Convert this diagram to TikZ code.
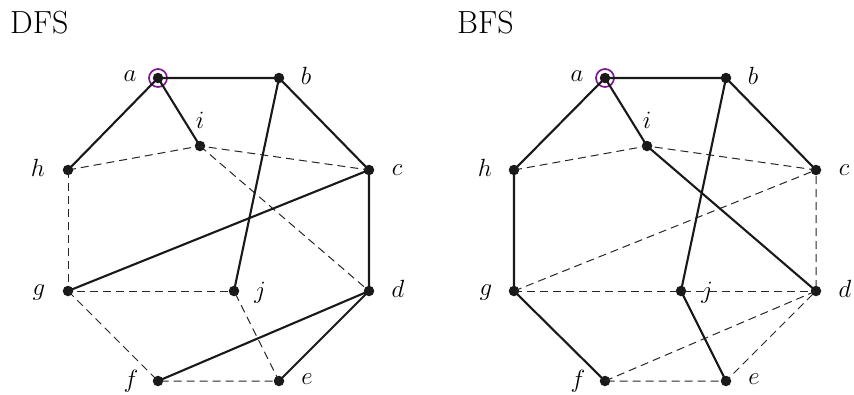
\documentclass[tikz,border=0pt]{standalone}
\usepackage{fontspec}
\definecolor{rootpurple}{RGB}{128,20,150}
\tikzset{
  vtx/.style={circle,fill=black!90,inner sep=0pt,minimum size=10.5pt},
  lbl/.style={font=\fontsize{30}{34}\selectfont},
  tree/.style={line width=2.1pt,black!90},
  nontree/.style={line width=1pt,black!85,dash pattern=on 8pt off 5pt},
  root/.style={draw=rootpurple,line width=1.7pt,circle,inner sep=0pt,minimum size=18pt},
  ttl/.style={font=\fontsize{32}{36}\selectfont,anchor=base west,inner sep=0pt}
}
\begin{document}
\begin{tikzpicture}[x=1pt,y=-1pt]
\useasboundingbox (0,0) rectangle (854,394);
\node[ttl] (tdfs) at (10,33) {DFS};
\node[ttl] (tbfs) at (457,33) {BFS};
% ---------- DFS ----------
\begin{scope}
\node[vtx] (a) at (158,78) {};
\node[vtx] (b) at (279,78) {};
\node[vtx] (c) at (369,170) {};
\node[vtx] (d) at (369,291) {};
\node[vtx] (e) at (279,381) {};
\node[vtx] (f) at (158,381) {};
\node[vtx] (g) at (68,291) {};
\node[vtx] (h) at (68,170) {};
\node[vtx] (i) at (200,146) {};
\node[vtx] (j) at (234,291) {};
\node[root] (ra) at (a) {};
\node[lbl] (la) at (130,76) {$a$};
\node[lbl] (lb) at (306,76) {$b$};
\node[lbl] (lc) at (397,170) {$c$};
\node[lbl] (ld) at (398,289) {$d$};
\node[lbl] (le) at (307,379) {$e$};
\node[lbl] (lf) at (131,381) {$f$};
\node[lbl] (lg) at (39,293) {$g$};
\node[lbl] (lh) at (38,168) {$h$};
\node[lbl] (li) at (200,120) {$i$};
\node[lbl] (lj) at (260,293) {$j$};
\draw[nontree] (h.center) -- (i.center) -- (c.center);
\draw[nontree] (i.center) -- (d.center);
\draw[nontree] (h.center) -- (g.center) -- (j.center);
\draw[nontree] (g.center) -- (f.center) -- (e.center) -- (j.center);
\draw[tree] (h.center) -- (a.center) -- (b.center) -- (c.center) -- (d.center) -- (e.center);
\draw[tree] (a.center) -- (i.center);
\draw[tree] (b.center) -- (j.center);
\draw[tree] (c.center) -- (g.center);
\draw[tree] (d.center) -- (f.center);
\end{scope}
% ---------- BFS ----------
\begin{scope}
\node[vtx] (A) at (605,78) {};
\node[vtx] (B) at (726,78) {};
\node[vtx] (C) at (816,170) {};
\node[vtx] (D) at (816,291) {};
\node[vtx] (E) at (726,381) {};
\node[vtx] (F) at (605,381) {};
\node[vtx] (G) at (514,291) {};
\node[vtx] (H) at (514,170) {};
\node[vtx] (I) at (647,146) {};
\node[vtx] (J) at (681,291) {};
\node[root] (rA) at (A) {};
\node[lbl] (lA) at (577,76) {$a$};
\node[lbl] (lB) at (753,76) {$b$};
\node[lbl] (lC) at (844,170) {$c$};
\node[lbl] (lD) at (845,289) {$d$};
\node[lbl] (lE) at (754,379) {$e$};
\node[lbl] (lF) at (578,381) {$f$};
\node[lbl] (lG) at (486,293) {$g$};
\node[lbl] (lH) at (485,168) {$h$};
\node[lbl] (lI) at (647,120) {$i$};
\node[lbl] (lJ) at (707,293) {$j$};
\draw[nontree] (H.center) -- (I.center) -- (C.center) -- (D.center);
\draw[nontree] (G.center) -- (C.center);
\draw[nontree] (G.center) -- (J.center);
\draw[nontree] (G.center) -- (D.center);
\draw[nontree] (F.center) -- (D.center) -- (E.center) -- (F.center);
\draw[tree] (F.center) -- (G.center) -- (H.center) -- (A.center) -- (B.center) -- (C.center);
\draw[tree] (A.center) -- (I.center) -- (D.center);
\draw[tree] (B.center) -- (J.center) -- (E.center);
\end{scope}
\end{tikzpicture}
\end{document}
